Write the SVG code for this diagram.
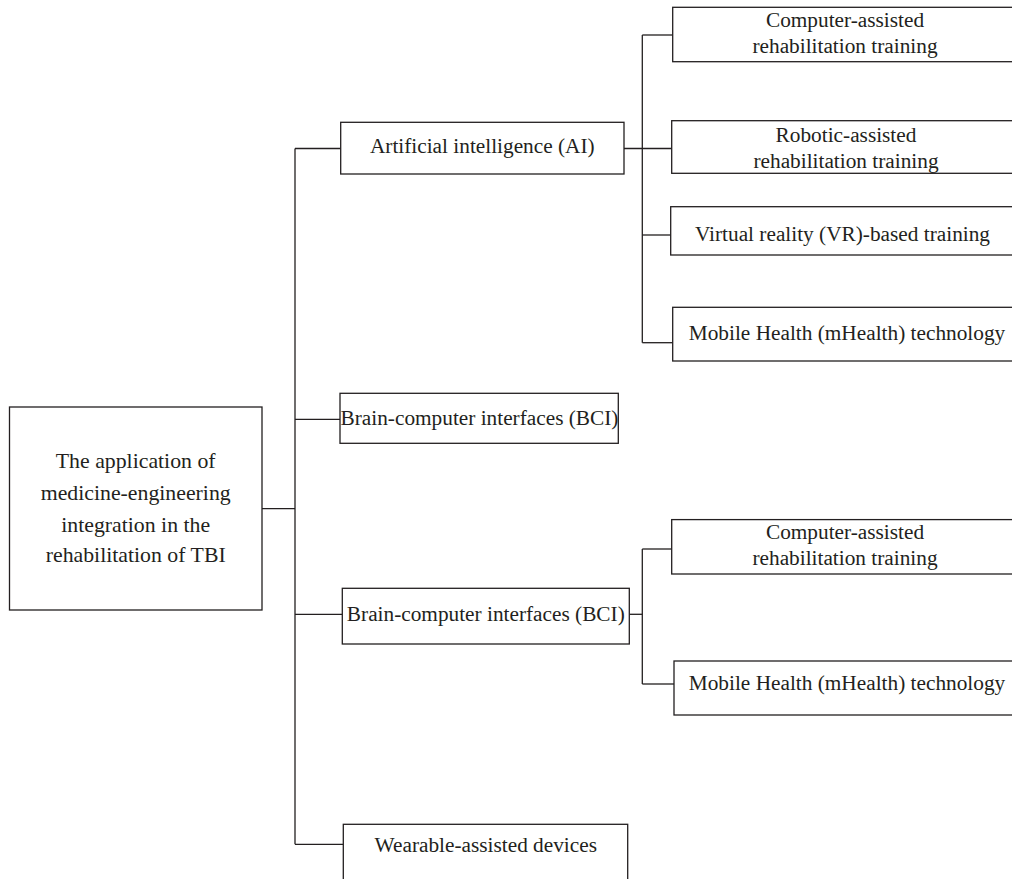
<svg xmlns="http://www.w3.org/2000/svg" width="1012" height="879" viewBox="0 0 1012 879">
<style>
.box{fill:#fff;stroke:#231f20;stroke-width:1.3}
.ln{fill:none;stroke:#231f20;stroke-width:1.3}
text{font-family:"Liberation Serif","Times New Roman",serif;font-size:21.3px;fill:#231f20;text-anchor:middle}
.root{font-size:21.8px}
</style>
<rect width="1012" height="879" fill="#fff"/>
<g id="connectors">
<polyline class="ln" points="262,508.7 295,508.7"/>
<line class="ln" x1="295" y1="148.5" x2="295" y2="844.3"/>
<line class="ln" x1="295" y1="148.5" x2="340.7" y2="148.5"/>
<line class="ln" x1="295" y1="419.3" x2="340" y2="419.3"/>
<line class="ln" x1="295" y1="614.3" x2="342.3" y2="614.3"/>
<line class="ln" x1="295" y1="844.3" x2="343.3" y2="844.3"/>
<line class="ln" x1="624" y1="148.5" x2="671.7" y2="148.5"/>
<line class="ln" x1="642.3" y1="35" x2="642.3" y2="342.7"/>
<line class="ln" x1="642.3" y1="35" x2="672.7" y2="35"/>
<line class="ln" x1="642.3" y1="235" x2="670.7" y2="235"/>
<line class="ln" x1="642.3" y1="342.7" x2="672.7" y2="342.7"/>
<line class="ln" x1="629.3" y1="614.3" x2="642.3" y2="614.3"/>
<line class="ln" x1="642.3" y1="549" x2="642.3" y2="684"/>
<line class="ln" x1="642.3" y1="549" x2="671.7" y2="549"/>
<line class="ln" x1="642.3" y1="684" x2="674" y2="684"/>
</g>
<g id="root">
<rect class="box" x="9.5" y="407" width="252.5" height="203"/>
<text class="root" x="135.7" y="468">The application of</text>
<text class="root" x="135.7" y="500">medicine-engineering</text>
<text class="root" x="135.7" y="532">integration in the</text>
<text class="root" x="135.7" y="562">rehabilitation of TBI</text>
</g>
<g id="ai">
<rect class="box" x="340.7" y="122.3" width="283.3" height="51.7"/>
<text x="482.3" y="153.3">Artificial intelligence (AI)</text>
</g>
<g id="bci1">
<rect class="box" x="340" y="393.3" width="278.3" height="50"/>
<text x="479.5" y="425">Brain-computer interfaces (BCI)</text>
</g>
<g id="bci2">
<rect class="box" x="342.3" y="588.3" width="287" height="55.7"/>
<text x="485.8" y="621">Brain-computer interfaces (BCI)</text>
</g>
<g id="wearable">
<rect class="box" x="343.3" y="824.3" width="284.4" height="70"/>
<text x="485.8" y="852.3">Wearable-assisted devices</text>
</g>
<g id="ai-computer">
<rect class="box" x="672.7" y="7.3" width="346" height="54.4"/>
<text x="845" y="27">Computer-assisted</text>
<text x="845" y="52.7">rehabilitation training</text>
</g>
<g id="ai-robotic">
<rect class="box" x="671.7" y="120.7" width="347" height="52.6"/>
<text x="846" y="141.7">Robotic-assisted</text>
<text x="846" y="167.7">rehabilitation training</text>
</g>
<g id="ai-vr">
<rect class="box" x="670.7" y="206.7" width="348" height="48.3"/>
<text x="842.5" y="240.7">Virtual reality (VR)-based training</text>
</g>
<g id="ai-mhealth">
<rect class="box" x="672.7" y="307.3" width="346" height="53.7"/>
<text x="847" y="340">Mobile Health (mHealth) technology</text>
</g>
<g id="bci-computer">
<rect class="box" x="671.7" y="519.6" width="347" height="54.4"/>
<text x="845" y="539">Computer-assisted</text>
<text x="845" y="565">rehabilitation training</text>
</g>
<g id="bci-mhealth">
<rect class="box" x="674" y="661" width="345" height="54"/>
<text x="847" y="690">Mobile Health (mHealth) technology</text>
</g>
</svg>
